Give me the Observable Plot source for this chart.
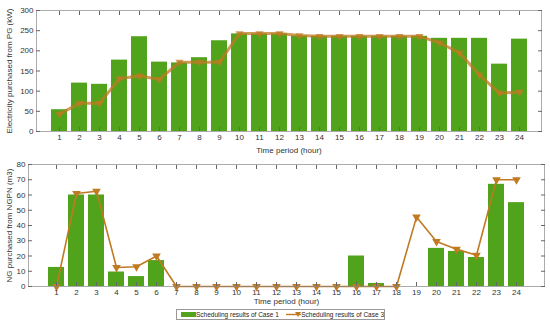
<!DOCTYPE html>
<html><head><meta charset="utf-8">
<script src="https://cdn.jsdelivr.net/npm/d3@7"></script>
<script src="https://cdn.jsdelivr.net/npm/@observablehq/plot@0.6"></script>
<style>
body{margin:0;background:#fff;font-family:"Liberation Sans",Arial,sans-serif;}
#wrap{width:550px;}
svg{display:block}
.legend{margin-left:176px;margin-top:3px;width:209px;height:11px;border:1px solid #999;box-sizing:border-box;font-size:6.5px;line-height:9px;color:#222;display:flex;align-items:center;white-space:nowrap;}
</style></head><body>
<div id="wrap"></div>
<script>
const hours = d3.range(1, 25);
const pgCase1 = [54,120,117,177,235,172,170,183,225,242,242,242,237,236,236,236,236,236,236,231,231,231,167,229];
const pgCase3 = [43,70,70,131,138,129,172,172,172,243,243,243,238,236,236,236,236,236,236,220,195,140,95,98];
const ngCase1 = [12.5,60,60,9.5,6.5,17,0,0,0,0,0,0,0,0,0,20,2,0,0,25,23,19,67,55];
const ngCase3 = [0,61,62.5,12.5,13,20,0,0,0,0,0,0,0,0,0,0,0,0,45.5,29.5,24.5,20.5,70,70];
const pgTicks = [0,50,100,150,200,250,300];
const ngTicks = [0,10,20,30,40,50,60,70,80];
const xLabel = "Time period (hour)";
const pgLabel = "Electricity purchased from PG (kW)";
const ngLabel = "NG purchased from NGPN (m3)";
const legendLabels = ["Scheduling results of Case 1", "Scheduling results of Case 3"];

const green = "#52a31c";
const brown = "#bf7a22";

function panel(c1, c3, yTicks, yMax, label, opts) {
  const d1 = hours.map((h, i) => ({h, v: c1[i]}));
  const d3_ = hours.map((h, i) => ({h, v: c3[i]}));
  return Plot.plot({
    width: 550, height: opts.height,
    marginTop: opts.mt, marginBottom: opts.mb, marginLeft: opts.ml, marginRight: opts.mr,
    style: {fontFamily: "Liberation Sans, Arial, sans-serif", fontSize: "8px", color: "#333", overflow: "visible"},
    x: {type: "band", domain: hours, paddingInner: 0.2, paddingOuter: 0.6, label: null},
    y: {domain: [0, yMax], label: null},
    marks: [
      Plot.barY(d1, {x: "h", y: "v", fill: green}),
      Plot.line(d3_, {x: "h", y: "v", stroke: brown, strokeWidth: opts.lw, strokeOpacity: opts.lo}),
      Plot.dot(d3_, {x: "h", y: "v", symbol: "triangle", rotate: 180, r: opts.r, fill: brown, fillOpacity: opts.lo, stroke: "none"}),
      Plot.frame({stroke: "#888", strokeWidth: 0.7}),
      Plot.axisX({anchor: "bottom", ticks: hours, tickSize: -4, tickPadding: 7, stroke: "#666", fill: "#333", label: xLabel, labelAnchor: "center", labelOffset: opts.lab, labelArrow: false}),
      Plot.axisX({anchor: "top", ticks: hours, tickSize: -4, text: null, label: null, stroke: "#666"}),
      Plot.axisY({anchor: "left", ticks: yTicks, tickSize: -4, tickPadding: 7, stroke: "#666", fill: "#333", label, labelAnchor: "center", labelArrow: false, labelOffset: opts.ylo}),
      Plot.axisY({anchor: "right", ticks: yTicks, tickSize: -4, text: null, label: null, stroke: "#666"})
    ]
  });
}

const wrap = document.getElementById("wrap");
wrap.appendChild(panel(pgCase1, pgCase3, pgTicks, 300, pgLabel, {height: 160, mt: 10, mb: 29, ml: 36, mr: 9, lw: 3, lo: 0.75, r: 3, lab: 21, ylo: 30}));
wrap.appendChild(panel(ngCase1, ngCase3, ngTicks, 80, ngLabel, {height: 146, mt: 4, mb: 20, ml: 28, mr: 6, lw: 1.6, lo: 1, r: 3.2, lab: 17, ylo: 22}));

const leg = document.createElement("div");
leg.className = "legend";
leg.innerHTML = `<svg width="30" height="9"><rect x="4" y="2" width="24" height="5" fill="${green}"/></svg><span style="margin-right:6px">${legendLabels[0]}</span>` +
  `<svg width="26" height="9"><line x1="1" x2="25" y1="4.5" y2="4.5" stroke="${brown}" stroke-width="1.4"/><path d="M10,2 L16,2 L13,7 Z" fill="${brown}"/></svg><span>${legendLabels[1]}</span>`;
wrap.appendChild(leg);
</script>
</body></html>
